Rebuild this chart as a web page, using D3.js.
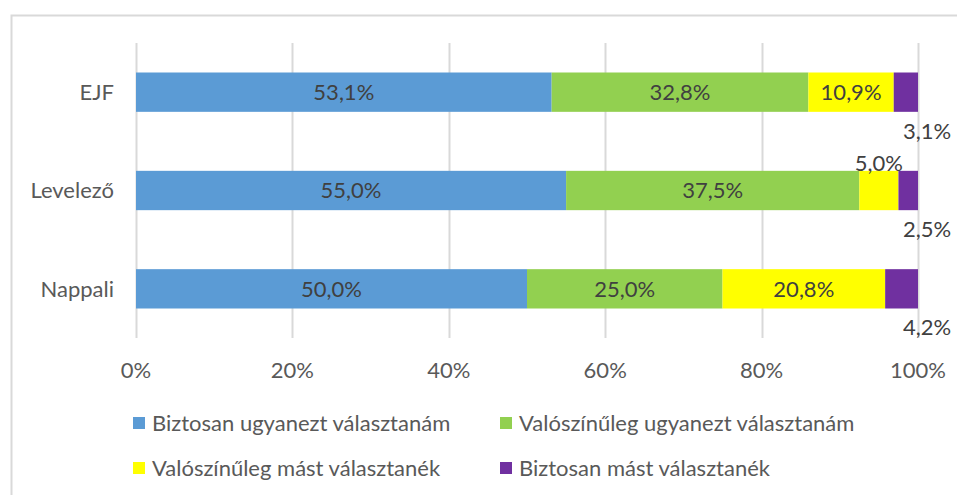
<!DOCTYPE html>
<html lang="hu">
<meta charset="utf-8">
<head>
    <script src="https://d3js.org/d3.v7.min.js"></script>
    <style>
        body { margin: 0; background: #fff; }
        text { font-family: Lato, "Open Sans", sans-serif; }
    </style>
</head>
<body>
<script>

// data
const categories = ["EJF", "Levelező", "Nappali"]
const seriesNames = ["Biztosan ugyanezt választanám", "Valószínűleg ugyanezt választanám",
                     "Valószínűleg mást választanék", "Biztosan mást választanék"]
const biztosanUgyanezt = [53.1, 55.0, 50.0]
const valoszinuUgyanezt = [32.8, 37.5, 25.0]
const valoszinuMast = [10.9, 5.0, 20.8]
const biztosanMast = [3.1, 2.5, 4.2]
const tickValues = [0, 0.2, 0.4, 0.6, 0.8, 1]

const colors = ["#5B9BD5", "#92D050", "#FFFF00", "#7030A0"]

const width = 957, height = 495
const margin = {top: 43, left: 136, right: 39, bottom: 157}
const fontSize = 22

const svg = d3.select("body").append("svg")
    .attr("width", width)
    .attr("height", height)

// outer frame (picture is cropped on right and bottom)
svg.append("path")
    .attr("d", `M11.5,${height} V15.5 H${width}`)
    .attr("fill", "none")
    .attr("stroke", "#d9d9d9")
    .attr("stroke-width", 2)

const x = d3.scaleLinear()
    .domain([0, 1])
    .range([margin.left, width - margin.right])

const y = d3.scaleBand()
    .domain(categories)
    .range([margin.top, height - margin.bottom])
    .paddingInner(0.6)
    .paddingOuter(0.3)

// build rows, normalized like a 100% stacked bar
const allSeries = [biztosanUgyanezt, valoszinuUgyanezt, valoszinuMast, biztosanMast]
const rows = categories.map(function(c, i) {
    const row = {cat: c}
    seriesNames.forEach(function(s, j) { row[s] = allSeries[j][i] })
    return row
})
const stacked = d3.stack().keys(seriesNames).offset(d3.stackOffsetExpand)(rows)

// gridlines
svg.append("g")
    .selectAll("line")
    .data(tickValues)
    .join("line")
    .attr("x1", d => Math.round(x(d)) + 0.5)
    .attr("x2", d => Math.round(x(d)) + 0.5)
    .attr("y1", margin.top)
    .attr("y2", height - margin.bottom)
    .attr("stroke", "#d9d9d9")
    .attr("stroke-width", 2)

// bars
const layer = svg.append("g")
    .selectAll("g")
    .data(stacked)
    .join("g")
    .attr("fill", (d, i) => colors[i])

layer.selectAll("rect")
    .data(d => d)
    .join("rect")
    .attr("x", d => x(d[0]))
    .attr("width", d => x(d[1]) - x(d[0]))
    .attr("y", d => y(d.data.cat))
    .attr("height", y.bandwidth())

// data labels
const fmt = v => v.toFixed(1).replace(".", ",") + "%"
stacked.forEach(function(s, si) {
    s.forEach(function(d, ci) {
        const val = allSeries[si][ci]
        let lx = (x(d[0]) + x(d[1])) / 2
        let ly = y(d.data.cat) + y.bandwidth() / 2
        if (si === 3) {
            // small purple slices: label below the bar end
            lx = x(d[1]) + 9
            ly = y(d.data.cat) + y.bandwidth() + 19
        } else if (si === 2 && val < 6) {
            ly = y(d.data.cat) - 8
        }
        svg.append("text")
            .attr("x", lx)
            .attr("y", ly)
            .attr("dy", "0.35em")
            .attr("text-anchor", "middle")
            .attr("font-size", fontSize)
            .attr("fill", "#404040")
            .text(fmt(val))
    })
})

// category labels
svg.append("g")
    .selectAll("text")
    .data(categories)
    .join("text")
    .attr("x", margin.left - 22)
    .attr("y", d => y(d) + y.bandwidth() / 2)
    .attr("dy", "0.35em")
    .attr("text-anchor", "end")
    .attr("font-size", fontSize)
    .attr("fill", "#595959")
    .text(d => d)

// x axis labels
svg.append("g")
    .selectAll("text")
    .data(tickValues)
    .join("text")
    .attr("x", d => x(d))
    .attr("y", 370)
    .attr("dy", "0.35em")
    .attr("text-anchor", "middle")
    .attr("font-size", fontSize)
    .attr("fill", "#595959")
    .text(d => d3.format(".0%")(d))

// legend
const legendPos = [[133, 423], [500, 423], [133, 468], [500, 468]]
const legend = svg.append("g")
    .selectAll("g")
    .data(seriesNames)
    .join("g")
    .attr("transform", (d, i) => `translate(${legendPos[i][0]}, ${legendPos[i][1]})`)

legend.append("rect")
    .attr("x", 0)
    .attr("y", -6)
    .attr("width", 12)
    .attr("height", 12)
    .attr("fill", (d, i) => colors[i])

legend.append("text")
    .attr("x", 19)
    .attr("y", 0)
    .attr("dy", "0.35em")
    .attr("font-size", fontSize)
    .attr("fill", "#595959")
    .text(d => d)

</script>
</body>
</html>
